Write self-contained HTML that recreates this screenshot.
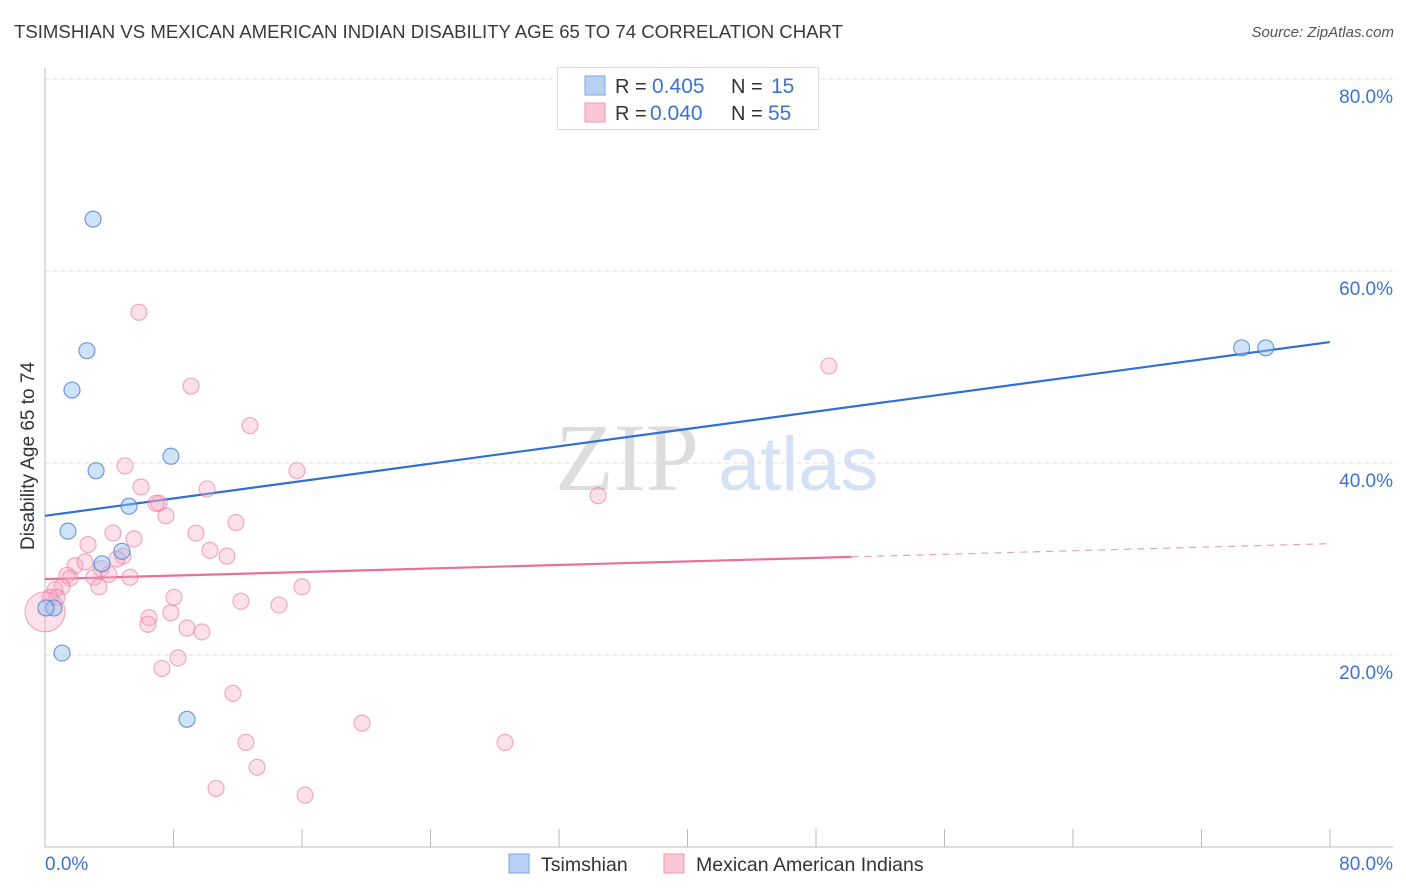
<!DOCTYPE html>
<html><head><meta charset="utf-8">
<style>
body{margin:0;width:1406px;height:892px;background:#fff;font-family:"Liberation Sans",sans-serif;overflow:hidden;position:relative}
.t{position:absolute;white-space:nowrap}
</style></head><body>
<div class="t" style="left:14px;top:21px;font-size:18.6px;color:#3a3a3a">TSIMSHIAN VS MEXICAN AMERICAN INDIAN DISABILITY AGE 65 TO 74 CORRELATION CHART</div>
<div class="t" style="right:12px;top:24px;font-size:15px;color:#555;font-style:italic">Source: ZipAtlas.com</div>
<svg id="chart" width="1406" height="892" style="position:absolute;left:0;top:0">
<text x="555" y="490" font-family="Liberation Serif" font-size="96" fill="#ddd">ZIP</text>
<text x="718" y="490" font-family="Liberation Sans" font-size="76" fill="#d5e2f5">atlas</text>
<g id="grid"></g><g id="axes"></g><g id="lines"></g><g id="pts"></g>
<text x="34" y="456" transform="rotate(-90 34 456)" text-anchor="middle" font-size="19" fill="#333">Disability Age 65 to 74</text>
<text x="45" y="870" font-size="19" fill="#3b73d1">0.0%</text>
<text x="1393" y="870" text-anchor="end" font-size="19" fill="#3b73d1">80.0%</text>
<g>
<rect x="557.5" y="67.5" width="261" height="62" fill="#fff" stroke="#ddd"/>
<rect x="585" y="76" width="20" height="19" fill="#b7d0f3" stroke="#7da6e3"/>
<rect x="585" y="103" width="20" height="19" fill="#fbc7d4" stroke="#ef97b0"/>
<text x="615" y="93" font-size="20" fill="#333">R =</text><text x="652" y="93" font-size="21" fill="#3b73d1">0.405</text>
<text x="731" y="93" font-size="20" fill="#333">N =</text><text x="771" y="93" font-size="21" fill="#3b73d1">15</text>
<text x="615" y="120" font-size="20" fill="#333">R =</text><text x="650" y="120" font-size="21" fill="#3b73d1">0.040</text>
<text x="731" y="120" font-size="20" fill="#333">N =</text><text x="768" y="120" font-size="21" fill="#3b73d1">55</text>
</g>
<g>
<rect x="509" y="854" width="20" height="19" fill="#b7d0f3" stroke="#7da6e3"/>
<text x="541" y="871" font-size="19.5" fill="#333">Tsimshian</text>
<rect x="664" y="854" width="20" height="19" fill="#fbc7d4" stroke="#ef97b0"/>
<text x="696" y="871" font-size="19.5" fill="#333">Mexican American Indians</text>
</g>
</svg>
<script>
const yTicks=[20,40,60,80];
const xTicks=[0,10,20,30,40,50,60,70,80];
const blueX=[2.99,2.61,1.68,3.18,7.84,5.23,1.43,4.79,3.55,0.56,0.06,1.06,8.84,74.5,76.0];
const blueY=[65.4,51.7,47.6,39.2,40.7,35.5,32.9,30.8,29.5,24.9,24.9,20.2,13.3,52.0,52.0];
const pinkX=[5.85,9.09,12.76,48.8,4.98,15.69,5.98,7.10,6.91,10.09,7.53,11.89,34.43,4.23,9.40,5.54,2.68,10.27,11.33,4.86,4.48,1.87,2.49,3.49,3.98,3.05,5.29,1.37,1.56,1.06,0.62,0.31,0.75,3.36,16.0,8.03,12.2,14.57,6.48,6.41,7.84,8.84,9.77,8.28,7.28,11.7,19.74,12.51,28.64,13.2,10.65,16.19,0];
const pinkY=[55.7,48.0,43.9,50.1,39.7,39.2,37.5,35.8,35.8,37.3,34.5,33.8,36.6,32.7,32.7,32.1,31.5,30.9,30.3,30.3,30.0,29.3,29.7,29.0,28.4,28.1,28.1,28.3,28.0,27.1,26.8,26.0,26.0,27.1,27.1,26.0,25.6,25.2,23.9,23.2,24.4,22.8,22.4,19.7,18.6,16.0,12.9,10.9,10.9,8.3,6.1,5.4,24.5];
const blueLine=[34.5,52.6];
const pinkLine=[27.9,31.6];
const pinkSolidEnd=50.2;
const X=v=>45+v*(1285/80), Y=v=>847-v*9.6;
const NS='http://www.w3.org/2000/svg';
function mk(p,t,a){const e=document.createElementNS(NS,t);for(const k in a)e.setAttribute(k,a[k]);document.getElementById(p).appendChild(e);return e;}
yTicks.forEach(v=>{
 const l=mk('grid','line',{x1:45,x2:1393,y1:Y(v),y2:Y(v),stroke:'#ddd','stroke-dasharray':'4,4'});
 
 
 const t=mk('grid','text',{x:1393,y:Y(v)+24,'text-anchor':'end','font-size':19,fill:'#3b73d1'});
 t.textContent=v.toFixed(1)+'%';
 
 
});
const ax=mk('axes','line',{x1:45,x2:45,y1:68,y2:847,stroke:'#bbb'});


const bx=mk('axes','line',{x1:45,x2:1393,y1:847,y2:847,stroke:'#bbb'});


for(let v=0;v<=80;v+=8){
 const tk=mk('axes','line',{x1:X(v),x2:X(v),y1:829,y2:847,stroke:'#bbb'});
 
 
}
const bl=mk('lines','line',{x1:X(0),y1:Y(blueLine[0]),x2:X(80),y2:Y(blueLine[1]),stroke:'#2f6fd6','stroke-width':2.2});


const py=v=>pinkLine[0]+(pinkLine[1]-pinkLine[0])*v/80;
const pl=mk('lines','line',{x1:X(0),y1:Y(py(0)),x2:X(pinkSolidEnd),y2:Y(py(pinkSolidEnd)),stroke:'#e8709a','stroke-width':2.2});


const pd=mk('lines','line',{x1:X(pinkSolidEnd),y1:Y(py(pinkSolidEnd)),x2:X(80),y2:Y(py(80)),stroke:'#e8a0b8','stroke-width':1.2,'stroke-dasharray':'7,6'});


pinkX.forEach((x,i)=>{
 const r=i===pinkX.length-1?20:8;
 const c=mk('pts','circle',{cx:X(x),cy:Y(pinkY[i]),r:r,fill:'rgba(248,170,195,0.35)',stroke:'rgba(232,120,160,0.6)','stroke-width':1.2});
 
 
});
blueX.forEach((x,i)=>{
 const c=mk('pts','circle',{cx:X(x),cy:Y(blueY[i]),r:8,fill:'rgba(150,190,240,0.45)',stroke:'rgba(70,125,210,0.75)','stroke-width':1.2});
 
 
});
</script>
</body></html>
